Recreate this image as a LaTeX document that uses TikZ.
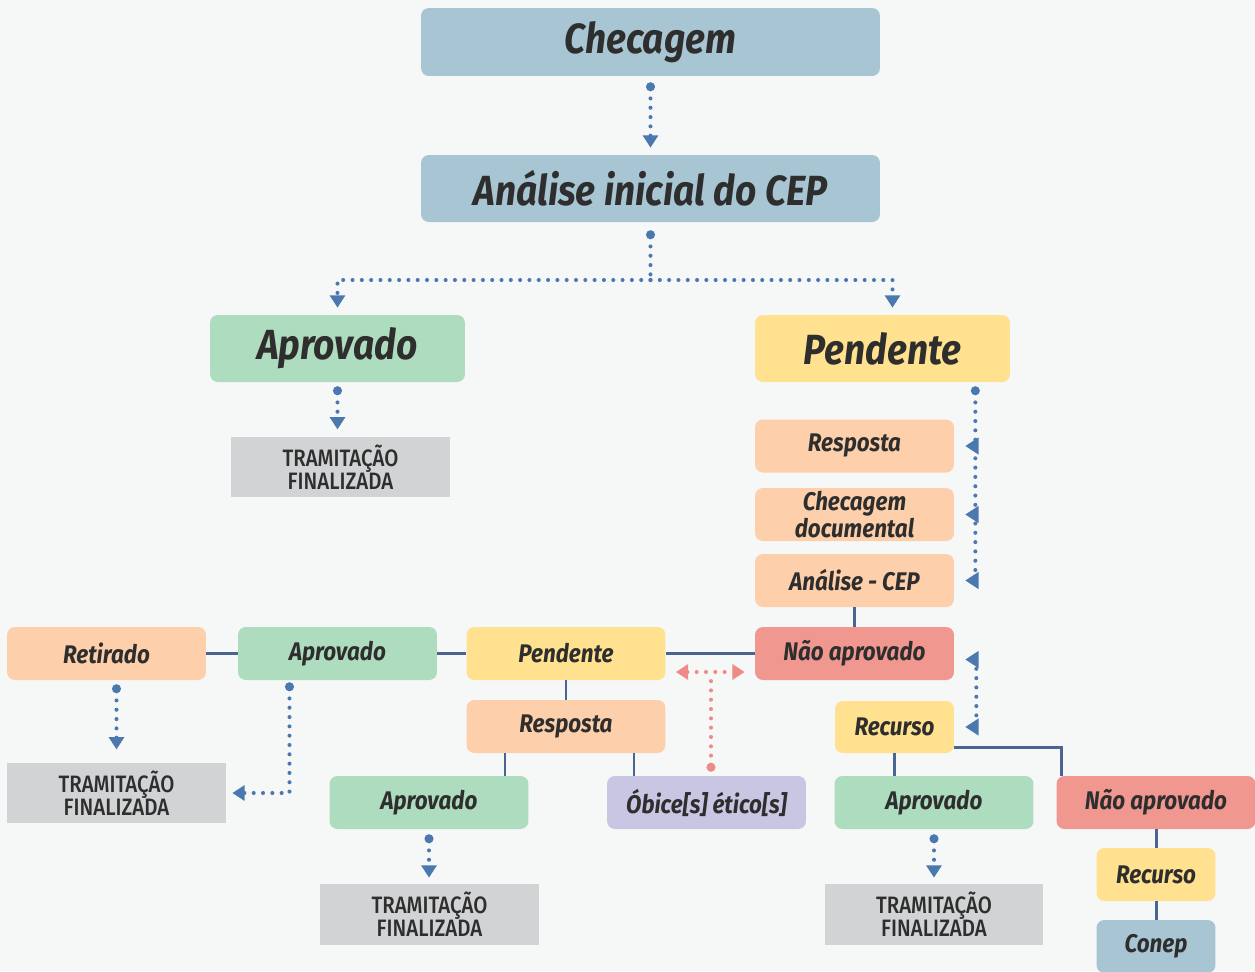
\documentclass[tikz,border=0pt]{standalone}
\usepackage{fontspec}
\setmainfont{Fira Sans}[FakeStretch=0.88]
\IfFontExistsTF{Fira Sans Medium}
  {\newfontfamily\tramfont{Fira Sans Medium}[FakeStretch=0.86]}
  {\newfontfamily\tramfont{Fira Sans}[FakeStretch=0.86, FakeBold=3]}
\usetikzlibrary{arrows.meta, positioning, calc}

\definecolor{bg}{HTML}{F6F7F7}
\definecolor{ink}{HTML}{2E2E2E}
\definecolor{cepblue}{HTML}{A8C5D3}
\definecolor{okgreen}{HTML}{AEDCBE}
\definecolor{penyellow}{HTML}{FFE18F}
\definecolor{peach}{HTML}{FDD0AB}
\definecolor{nored}{HTML}{F0978F}
\definecolor{lilac}{HTML}{C9C6E3}
\definecolor{endgray}{HTML}{D1D3D4}
\definecolor{linkc}{HTML}{4A6592}
\definecolor{dotc}{HTML}{4A78AF}
\definecolor{dotred}{HTML}{F08A86}

\begin{document}
\begin{tikzpicture}[
  x=0.02cm, y=-0.02cm,
  >={Triangle[length=7pt, width=8.5pt]},
  box/.style={rounded corners=4.5pt, inner sep=0pt, text=ink, align=center,
    font=\bfseries\itshape\fontsize{14.5}{12.5}\selectfont,
    minimum width=3.98cm, minimum height=1.06cm},
  bigbox/.style={box, font=\bfseries\itshape\fontsize{24}{26}\selectfont,
    minimum width=5.1cm, minimum height=1.34cm},
  endbox/.style={fill=endgray, inner sep=0pt, text=ink, align=center,
    font=\tramfont\fontsize{13.5}{13}\selectfont,
    minimum width=4.38cm, minimum height=1.21cm},
  link/.style={draw=linkc, line width=1.7pt},
  dotline/.style={draw=dotc, line width=2.3pt, line cap=round, dash pattern=on 0pt off 5.3pt},
  reddot/.style={dotline, draw=dotred},
  flow/.style={dotline, {Circle[length=5pt]}->},
  tipl/.style={draw=dotc, line width=1pt, -{Triangle[length=7.5pt, width=9.5pt]}}
]
\fill[bg] (0,0) rectangle (1255,971);
\useasboundingbox (0,0) rectangle (1255,971);

% Top of the flow
\node[bigbox, fill=cepblue, minimum width=9.18cm, minimum height=1.36cm] (check) at (650.5,42) {Checagem};
\node[bigbox, fill=cepblue, minimum width=9.18cm] (ana) at (650.5,188.5) {Análise inicial do CEP};
\node[bigbox, fill=okgreen] (apv) at (337.5,348.5) {Aprovado};
\node[bigbox, fill=penyellow] (pen) at (882.5,348.5) {Pendente};
\node[endbox] (end1) at (340.5,467) {TRAMITAÇÃO\\FINALIZADA};

\coordinate (split) at (650.5,280);
\draw[flow] ($(check.south)+(0,6)$) -- ($(ana.north)+(0,-7)$);
\draw[dotline, {Circle[length=5pt]}-] ($(ana.south)+(0,8)$) -- (split);
\draw[dotline, ->] (split) -| ($(apv.north)+(0,-7)$);
\draw[dotline, ->] (split) -| ($(pen.north)+(10,-7)$);
\draw[flow] ($(apv.south)+(0,4)$) -- ($(apv.south |- end1.north)+(0,-7)$);

% Right column
\node[box, fill=peach] (resp) at (854.5,446) {Resposta};
\node[box, fill=peach] (chk) at (854.5,514.5) {Checagem\\documental};
\node[box, fill=peach] (anl) at (854.5,580.5) {Análise - CEP};
\node[box, fill=nored] (nao) at (854.5,653.5) {Não aprovado};
\node[box, fill=penyellow, minimum width=2.38cm, minimum height=1.04cm] (rec) at (894.5,727) {Recurso};
\node[box, fill=okgreen] (apr4) at (934,802.5) {Aprovado};
\node[endbox, minimum height=1.22cm] (end4) at (934,914.5) {TRAMITAÇÃO\\FINALIZADA};
\node[box, fill=nored] (nao2) at (1156,802.5) {Não aprovado};
\node[box, fill=penyellow, minimum width=2.38cm] (rec2) at (1156,874.5) {Recurso};
\node[box, fill=cepblue, minimum width=2.38cm] (conep) at (1156,946.5) {Conep};

\coordinate (railtop) at ($(pen.south east)+(-35,4)$);
\draw[dotline, {Circle[length=5pt]}-] (railtop) -- (railtop |- anl.east);
\foreach \n in {resp,chk,anl}
  \draw[tipl] ($(railtop |- \n.east)+(2,0)$) -- ($(\n.east)+(11,0)$);
\draw[dotline] ($(railtop |- nao.east)+(1,6)$) -- ($(railtop |- rec.east)+(1,0)$);
\draw[tipl] ($(railtop |- nao.east)+(2,6)$) -- ($(nao.east)+(11,6)$);
\draw[tipl] ($(railtop |- rec.east)+(2,0)$) -- ($(rec.east)+(11,0)$);

\draw[link] (anl.south) -- (nao.north);
\draw[link] (rec.south) -- (rec.south |- apr4.north);
\draw[link] ($(rec.east)+(0,20)$) -| ($(nao2.north west)+(5,0)$);
\draw[link] (nao2.south) -- (rec2.north);
\draw[link] (rec2.south) -- (conep.north);
\draw[flow] ($(apr4.south)+(0,5)$) -- ($(apr4.south |- end4.north)+(0,-6)$);

% Middle row
\node[box, fill=peach] (ret) at (106.5,653.5) {Retirado};
\node[box, fill=okgreen] (apm) at (337.5,653.5) {Aprovado};
\node[box, fill=penyellow] (pdm) at (566,653.5) {Pendente};
\node[box, fill=peach] (rsm) at (566,726.5) {Resposta};
\node[box, fill=okgreen] (apr3) at (429,802.5) {Aprovado};
\node[box, fill=lilac] (obi) at (706.5,802.5) {Óbice[s] ético[s]};
\node[endbox] (endl) at (116.5,793) {TRAMITAÇÃO\\FINALIZADA};
\node[endbox, minimum height=1.22cm] (end3) at (429.5,914.5) {TRAMITAÇÃO\\FINALIZADA};

\draw[link] (ret.east) -- (apm.west);
\draw[link] (apm.east) -- (pdm.west);
\draw[link] (pdm.east) -- (nao.west);
\draw[link] (pdm.south) -- (rsm.north);
\draw[link] ($(rsm.south)+(-61,0)$) -- ($(apr3.north)+(76,0)$);
\draw[link] ($(rsm.south)+(68,0)$) -- ($(obi.north)+(-72.5,0)$);

\draw[flow] ($(ret.south -| endl.north)+(0,4)$) -- ($(endl.north)+(0,-13)$);
\draw[flow] ($(apm.south)+(-48,2)$) |- ($(endl.east)+(6,0)$);
\draw[flow] ($(apr3.south)+(0,5)$) -- ($(apr3.south |- end3.north)+(0,-6)$);

% Ethical objection loop
\coordinate (tee) at (711,672);
\draw[reddot, {Circle[length=5pt]}-] ($(obi.north)+(4.5,-4)$) -- (tee);
\draw[reddot, <->] ($(pdm.east |- tee)+(10,0)$) -- ($(nao.west |- tee)+(-10,0)$);
\end{tikzpicture}
\end{document}
